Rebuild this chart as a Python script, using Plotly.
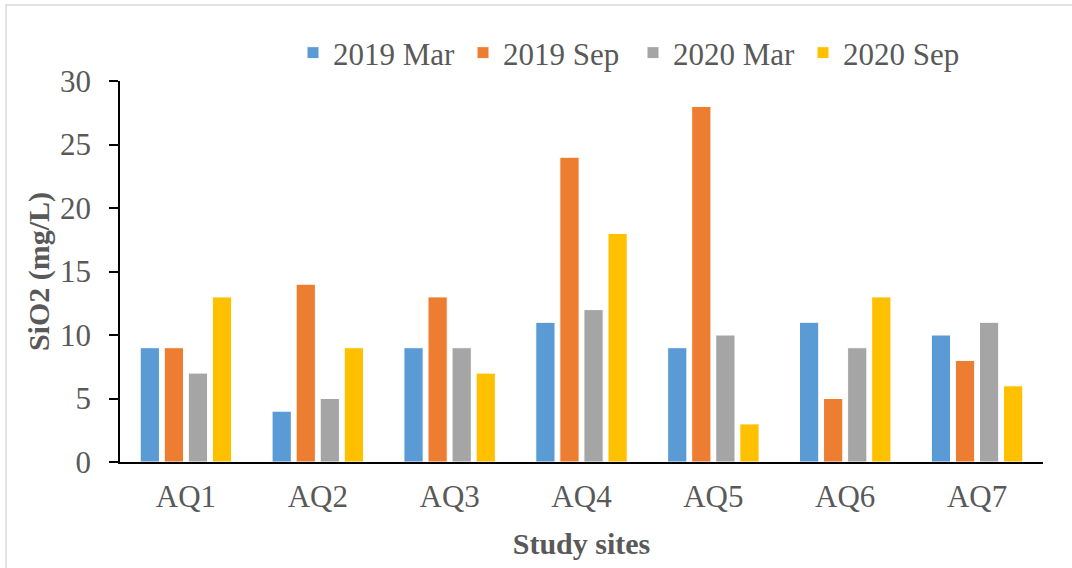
import plotly.graph_objects as go

# Silica concentrations per study site and sampling campaign
sites = ["AQ1", "AQ2", "AQ3", "AQ4", "AQ5", "AQ6", "AQ7"]
mar_2019 = [9, 4, 9, 11, 9, 11, 10]
sep_2019 = [9, 14, 13, 24, 28, 5, 8]
mar_2020 = [7, 5, 9, 12, 10, 9, 11]
sep_2020 = [13, 9, 7, 18, 3, 13, 6]
y_ticks = [0, 5, 10, 15, 20, 25, 30]

series = [
    ("2019 Mar", mar_2019, "#5B9BD5"),
    ("2019 Sep", sep_2019, "#ED7D31"),
    ("2020 Mar", mar_2020, "#A5A5A5"),
    ("2020 Sep", sep_2020, "#FFC000"),
]

W, H = 1072, 568
L, R, T, B = 120, 29, 81, 106
pw, ph = W - L - R, H - T - B

font_family = "Liberation Serif, Times New Roman, serif"
text_color = "#595959"

fig = go.Figure()
for name, vals, color in series:
    fig.add_trace(go.Bar(
        x=sites, y=vals, name=name,
        marker=dict(color=color, line=dict(color="white", width=1)),
    ))

fig.update_layout(
    width=W, height=H,
    margin=dict(l=L, r=R, t=T, b=B, autoexpand=False),
    paper_bgcolor="white", plot_bgcolor="white",
    barmode="group", bargap=0.27, bargroupgap=0.2,
    font=dict(family=font_family, color=text_color, size=31),
    legend=dict(
        orientation="h", x=(293 - L) / pw, xanchor="left",
        y=1 + (T - 53) / ph, yanchor="middle",
        font=dict(size=31, color=text_color),
        entrywidth=125, entrywidthmode="pixels",
        bgcolor="rgba(0,0,0,0)", itemclick=False,
    ),
    xaxis=dict(
        showline=True, linecolor="black", linewidth=1.5,
        ticks="", showgrid=False, tickfont=dict(size=31),
        ticklabelstandoff=6,
        title=dict(text="<b>Study sites</b>", font=dict(size=30), standoff=20),
    ),
    yaxis=dict(
        range=[0, 30], tickvals=y_ticks, showline=True, linecolor="black",
        linewidth=1.5, ticks="outside", ticklen=9, tickcolor="black",
        tickwidth=1.5, showgrid=False, zeroline=False,
        tickfont=dict(size=31), ticklabelstandoff=12,
        title=dict(text="<b>SiO2 (mg/L)</b>", font=dict(size=30), standoff=2),
    ),
    shapes=[dict(
        type="rect", xref="paper", yref="paper",
        x0=(6 - L) / pw, x1=(1200 - L) / pw,
        y0=1 + (T - 5) / ph, y1=-(B + 100) / ph,
        line=dict(color="#D9D9D9", width=1.5), fillcolor="rgba(0,0,0,0)",
        layer="below",
    )],
)

fig.write_html("out.html")
